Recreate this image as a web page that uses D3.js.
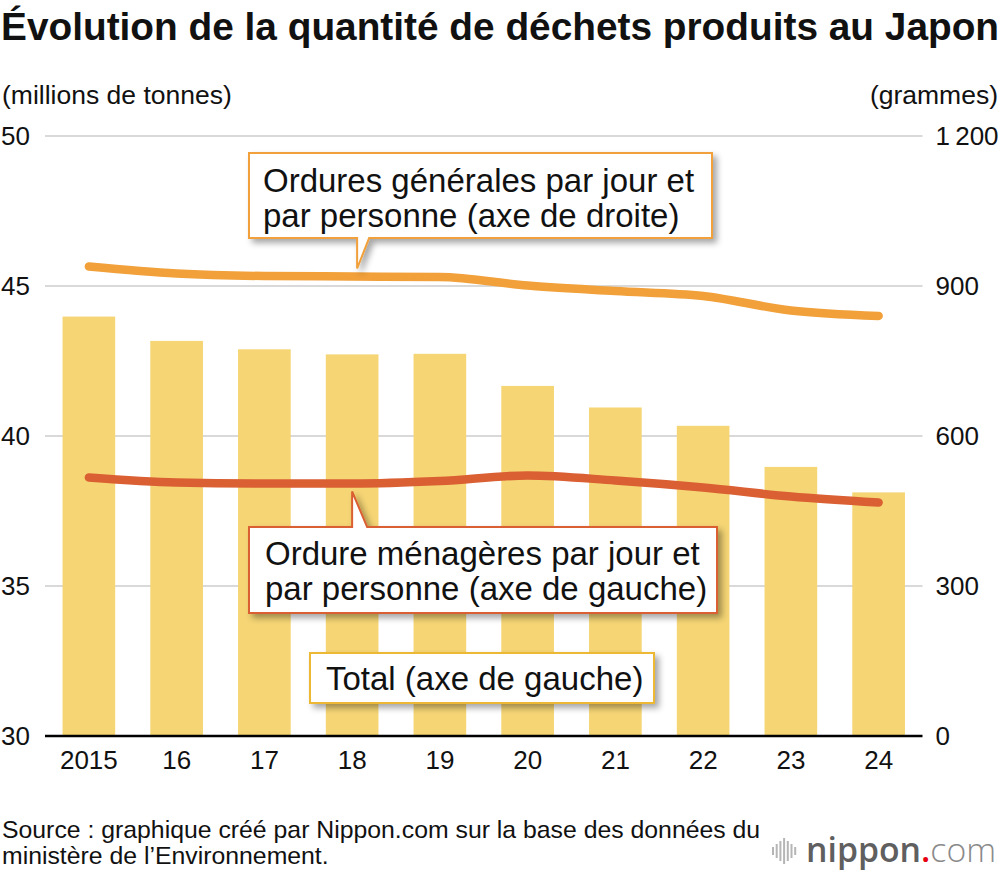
<!DOCTYPE html>
<html>
<head>
<meta charset="utf-8">
<script src="https://cdn.jsdelivr.net/npm/d3@7"></script>
<style>
  body { margin: 0; background: #fff; }
  svg text { font-family: "Liberation Sans", Arial, Helvetica, sans-serif; fill: #111; }
</style>
</head>
<body>
<div id="chart"></div>
<script>
// données
var annees = ["2015", "16", "17", "18", "19", "20", "21", "22", "23", "24"];
var total = [43.98, 43.17, 42.89, 42.72, 42.74, 41.67, 40.95, 40.34, 38.97, 38.12]; // millions de tonnes
var ordGenerales = [939, 925, 920, 919, 918, 901, 890, 880, 851, 840]; // grammes
var ordMenageres = [517, 507, 505, 505, 510, 521, 511, 497, 479, 467]; // grammes
var ticksGauche = [30, 35, 40, 45, 50];
var ticksDroite = [0, 300, 600, 900, 1200];

var couleurBarre = "#F5D574";
var couleurOrange = "#F1A03A";
var couleurRouge = "#DA5F33";
var couleurTotal = "#EDB934";

var W = 1000, H = 874;
var gauche = 45, droite = 922.5, haut = 136, bas = 736;

var svg = d3.select("#chart").append("svg")
    .attr("width", W)
    .attr("height", H);

// ombre des bulles
var defs = svg.append("defs");
defs.append("filter").attr("id", "ombre")
    .attr("x", "-10%").attr("y", "-20%").attr("width", "130%").attr("height", "160%")
  .append("feDropShadow")
    .attr("dx", 4).attr("dy", 4).attr("stdDeviation", 3)
    .attr("flood-color", "#000").attr("flood-opacity", 0.35);

// échelles
var x = d3.scaleBand().domain(annees).range([gauche, droite])
    .paddingInner(0.4).paddingOuter(0.2);
var yG = d3.scaleLinear().domain([30, 50]).range([bas, haut]);
var yD = d3.scaleLinear().domain([0, 1200]).range([bas, haut]);

var fr = d3.formatLocale({ decimal: ",", thousands: "\u2009", grouping: [3], currency: ["", " €"] });

// titre
svg.append("text")
    .attr("x", 1).attr("y", 40)
    .style("font-size", "38.8px").style("font-weight", "bold")
    .text("Évolution de la quantité de déchets produits au Japon");

// unités
svg.append("text").attr("x", 2).attr("y", 104)
    .style("font-size", "26.5px").text("(millions de tonnes)");
svg.append("text").attr("x", 998).attr("y", 104).attr("text-anchor", "end")
    .style("font-size", "26.5px").text("(grammes)");

// lignes horizontales
svg.selectAll("line.grille").data(ticksGauche.filter(d => d > 30)).enter()
    .append("line")
    .attr("class", "grille")
    .attr("x1", gauche).attr("x2", droite)
    .attr("y1", d => yG(d)).attr("y2", d => yG(d))
    .attr("stroke", "#cccccc").attr("stroke-width", 1.5);

// barres
svg.selectAll("rect.barre").data(total).enter()
    .append("rect")
    .attr("class", "barre")
    .attr("x", (d, i) => x(annees[i]))
    .attr("width", x.bandwidth())
    .attr("y", d => yG(d))
    .attr("height", d => bas - yG(d))
    .attr("fill", couleurBarre);

// axe du bas
svg.append("line")
    .attr("x1", gauche).attr("x2", droite)
    .attr("y1", bas).attr("y2", bas)
    .attr("stroke", "#000").attr("stroke-width", 2.5);

var axeX = svg.append("g")
    .attr("transform", "translate(0," + bas + ")")
    .call(d3.axisBottom(x).tickSize(0).tickPadding(15));
var axeG = svg.append("g")
    .attr("transform", "translate(" + gauche + ",0)")
    .call(d3.axisLeft(yG).tickValues(ticksGauche).tickSize(0).tickPadding(15));
var axeD = svg.append("g")
    .attr("transform", "translate(" + droite + ",0)")
    .call(d3.axisRight(yD).tickValues(ticksDroite).tickSize(0).tickPadding(13)
        .tickFormat(fr.format(",d")));

[axeX, axeG, axeD].forEach(function(a) {
    a.select(".domain").remove();
    a.selectAll("text")
        .style("font-size", "26px")
        .style("font-family", "'Liberation Sans', Arial, sans-serif")
        .attr("fill", "#111");
});

// courbes
var ligne = d3.line()
    .x((d, i) => x(annees[i]) + x.bandwidth() / 2)
    .y(d => yD(d))
    .curve(d3.curveMonotoneX);

svg.append("path")
    .datum(ordGenerales)
    .attr("fill", "none")
    .attr("stroke", couleurOrange)
    .attr("stroke-width", 8.5)
    .attr("stroke-linecap", "round")
    .attr("stroke-linejoin", "round")
    .attr("d", ligne);

svg.append("path")
    .datum(ordMenageres)
    .attr("fill", "none")
    .attr("stroke", couleurRouge)
    .attr("stroke-width", 8.5)
    .attr("stroke-linecap", "round")
    .attr("stroke-linejoin", "round")
    .attr("d", ligne);

// bulle orange (ordures générales)
var pointeX = x("18") + x.bandwidth() / 2;
var pOrange = yD(ordGenerales[3]) - 8;
svg.append("path")
    .attr("d", "M249,153 H712 V238 H" + (pointeX + 17) + " L" + (pointeX + 5) + "," + pOrange +
        " V238 H249 Z")
    .attr("fill", "#fff")
    .attr("stroke", couleurOrange)
    .attr("stroke-width", 2)
    .attr("filter", "url(#ombre)");
svg.append("text").attr("x", 263).attr("y", 192)
    .style("font-size", "33px").text("Ordures générales par jour et");
svg.append("text").attr("x", 263).attr("y", 227)
    .style("font-size", "33px").text("par personne (axe de droite)");

// bulle rouge (ordures ménagères)
var pRouge = yD(ordMenageres[3]) + 8;
svg.append("path")
    .attr("d", "M249,527 H" + pointeX + " V" + pRouge + " L" + (pointeX + 15) + ",527 H717 V613 H249 Z")
    .attr("fill", "#fff")
    .attr("stroke", couleurRouge)
    .attr("stroke-width", 2)
    .attr("filter", "url(#ombre)");
svg.append("text").attr("x", 265).attr("y", 565)
    .style("font-size", "33px").text("Ordure ménagères par jour et");
svg.append("text").attr("x", 265).attr("y", 600)
    .style("font-size", "33px").text("par personne (axe de gauche)");

// bulle total
svg.append("rect")
    .attr("x", 310).attr("y", 653).attr("width", 344).attr("height", 50)
    .attr("fill", "#fff")
    .attr("stroke", couleurTotal)
    .attr("stroke-width", 2)
    .attr("filter", "url(#ombre)");
svg.append("text").attr("x", 326).attr("y", 690)
    .style("font-size", "33px").text("Total (axe de gauche)");

// source
svg.append("text").attr("x", 2).attr("y", 838)
    .style("font-size", "24.8px").text("Source : graphique créé par Nippon.com sur la base des données du");
svg.append("text").attr("x", 2).attr("y", 864)
    .style("font-size", "24.8px").text("ministère de l’Environnement.");

// logo nippon.com
var barresLogo = [8, 14, 20, 26, 20, 14, 8];
svg.selectAll("rect.logo").data(barresLogo).enter()
    .append("rect")
    .attr("class", "logo")
    .attr("x", (d, i) => 772 + i * 3.7)
    .attr("y", d => 851 - d / 2)
    .attr("width", 2)
    .attr("height", d => d)
    .attr("fill", "#b5b5b5");
var logo = svg.append("text").attr("x", 806).attr("y", 862)
    .style("font-family", "'Open Sans', sans-serif")
    .style("font-size", "33.8px");
logo.append("tspan").style("font-weight", "600").attr("fill", "#5f5f5f").text("nippon");
logo.append("tspan").style("font-weight", "600").attr("fill", "#e60012").text(".");
logo.append("tspan").style("font-weight", "300").attr("fill", "#8a8a8a").text("com");
</script>
</body>
</html>
